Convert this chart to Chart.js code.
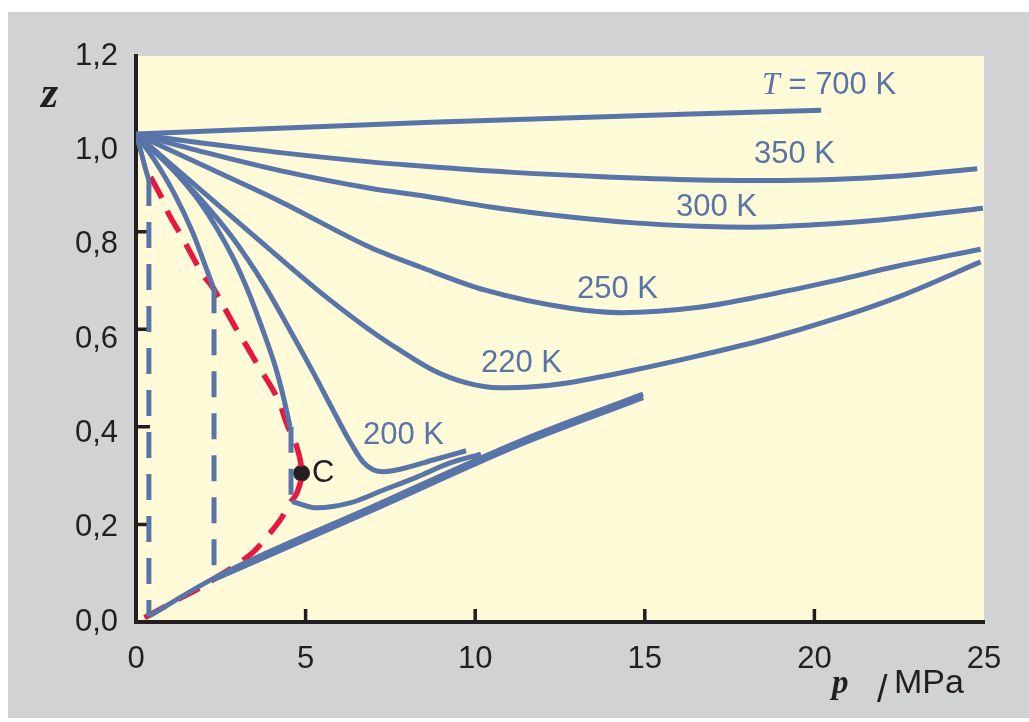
<!DOCTYPE html>
<html>
<head>
<meta charset="utf-8">
<title>Realgasfaktor z(p)</title>
<script src="https://cdn.jsdelivr.net/npm/chart.js@4/dist/chart.umd.min.js"></script>
<style>
  html, body { margin: 0; padding: 0; background: #ffffff; }
  #wrap { position: absolute; left: 0; top: 0; width: 1029px; height: 722px; }
</style>
</head>
<body>
<div id="wrap"><canvas id="chart" width="1029" height="722"></canvas></div>
<script>
// ---- values: pressure p in MPa, compression factor z ----
const xTickValues = [0, 5, 10, 15, 20, 25];
const xTickMarks = [5, 10, 15, 20];
const zLabelValues = [0, 0.2, 0.4, 0.6, 0.8, 1.0, 1.2];
const zTickMarks = [0.2, 0.4, 0.6, 0.8, 1.0];

const iso700 = [[0,1.0],[8.7,1.024],[20.2,1.049]];
const iso350 = [[0,1.0],[2,0.981],[4.25,0.962],[6.9,0.943],[8.5,0.934],[11,0.922],[13.6,0.913],[16.6,0.906],[18.6,0.905],[20.5,0.907],[22.5,0.914],[24.8,0.929]];
const iso300 = [[0,1.0],[2,0.963],[4.25,0.925],[6.9,0.889],[8.4,0.874],[10.5,0.85],[12.8,0.83],[14.7,0.818],[16.6,0.811],[18.1,0.809],[20.5,0.816],[22.5,0.828],[24.97,0.848]];
const iso250 = [[0,1.0],[2,0.935],[4.25,0.862],[6.9,0.768],[8.4,0.727],[10.3,0.68],[12.8,0.643],[14.3,0.634],[16.6,0.645],[18.6,0.67],[20.5,0.698],[22.5,0.73],[24.9,0.764]];
const iso220 = [[0,1.0],[2,0.88],[4,0.76],[5.5,0.672],[6.9,0.598],[7.78,0.557],[8.76,0.516],[9.75,0.49],[10.7,0.48],[11.7,0.482],[12.7,0.49],[14.65,0.516],[16.6,0.546],[18.6,0.58],[20.5,0.619],[22.5,0.667],[24.9,0.738]];
const iso200 = [[0,1.0],[0.943,0.937],[1.887,0.868],[2.83,0.789],[3.77,0.692],[4.54,0.598],[5.22,0.512],[5.81,0.434],[6.28,0.373],[6.69,0.328],[6.99,0.312],[7.3,0.308],[7.78,0.313],[8.76,0.332],[9.73,0.351]];

// subcritical isotherms: vapour branch, tie line, liquid branch
const gasA = [[0,1.0],[0.15,0.963],[0.3,0.924],[0.38,0.906]];
const tieA = [[0.38,0.906],[0.38,0.012]];
const liqA = [[0.38,0.012],[2.36,0.092],[6.9,0.234],[11.4,0.373],[14.95,0.467]];
const gasB = [[0,1.0],[0.56,0.945],[1.12,0.879],[1.68,0.797],[2.0,0.738],[2.28,0.686]];
const tieB = [[2.3,0.686],[2.3,0.09]];
const liqB = [[2.3,0.087],[6.9,0.227],[11.4,0.366],[14.95,0.46]];
const gasC = [[0,1.0],[0.943,0.938],[1.887,0.86],[2.83,0.751],[3.3,0.679],[3.74,0.598],[4.1,0.525],[4.35,0.46],[4.48,0.42],[4.54,0.4]];
const tieC = [[4.57,0.4],[4.57,0.25]];
const liqC = [[4.6,0.247],[5.34,0.234],[6.31,0.244],[7.28,0.27],[8.28,0.297],[9.26,0.326],[10.17,0.344]];

// two-phase boundary (dew and bubble curve) and critical point
const boundary = [[0.43,0.912],[0.79,0.865],[0.98,0.834],[1.35,0.79],[1.59,0.759],[1.98,0.711],[2.28,0.684],[2.67,0.636],[2.92,0.605],[3.3,0.561],[3.56,0.53],[4.15,0.461],[4.48,0.4],[4.74,0.359],[4.88,0.305],[4.74,0.264],[4.54,0.244],[4.25,0.209],[3.85,0.174],[3.45,0.143],[2.86,0.113],[2.38,0.092],[1.89,0.07],[1.2,0.045],[0.5,0.018],[0,0]];
const critical = [[4.88,0.305]];

// ---- styling ----
const BLUE = '#5874a8';
const RED = '#e8173f';
const INK = '#231f20';
const SANS = '"Liberation Sans", Arial, Helvetica, sans-serif';
const SERIF = '"Liberation Serif", "Times New Roman", serif';

const toPts = arr => arr.map(([x, y]) => ({ x, y }));

function solid(label, arr) {
  return { label, data: toPts(arr), borderColor: BLUE, borderWidth: 5,
           cubicInterpolationMode: 'monotone', pointRadius: 0, showLine: true, fill: false };
}
function tie(label, arr) {
  return { label, data: toPts(arr), borderColor: BLUE, borderWidth: 5,
           borderDash: [26, 16], pointRadius: 0, showLine: true, fill: false, tension: 0 };
}

const datasets = [
  solid('700 K', iso700),
  solid('350 K', iso350),
  solid('300 K', iso300),
  solid('250 K', iso250),
  solid('220 K', iso220),
  solid('200 K', iso200),
  solid('Isotherme A Gas', gasA), tie('Isotherme A Koexistenz', tieA), solid('Isotherme A Flüssigkeit', liqA),
  solid('Isotherme B Gas', gasB), tie('Isotherme B Koexistenz', tieB), solid('Isotherme B Flüssigkeit', liqB),
  solid('Isotherme C Gas', gasC), tie('Isotherme C Koexistenz', tieC), solid('Isotherme C Flüssigkeit', liqC),
  { label: 'Zweiphasengrenze', data: toPts(boundary), borderColor: RED, borderWidth: 5.5,
    borderDash: [24, 14], tension: 0.4, pointRadius: 0, showLine: true, fill: false },
  { label: 'kritischer Punkt', data: toPts(critical), showLine: false,
    pointRadius: 8, pointBackgroundColor: INK, pointBorderColor: INK, pointBorderWidth: 1 }
];

// frame, plot background and inward tick marks
const framePlugin = {
  id: 'frame',
  beforeDraw(chart) {
    const { ctx, chartArea: a } = chart;
    ctx.save();
    ctx.fillStyle = '#d1d2d4';
    ctx.fillRect(8, 12, 1021, 706);
    ctx.fillStyle = '#fffbd8';
    ctx.fillRect(a.left, a.top, a.right - a.left, a.bottom - a.top);
    ctx.restore();
  },
  beforeDatasetsDraw(chart) {
    const { ctx, chartArea: a, scales } = chart;
    ctx.save();
    ctx.strokeStyle = INK;
    ctx.lineWidth = 3.5;
    ctx.beginPath();
    xTickMarks.forEach(v => {
      const x = scales.x.getPixelForValue(v);
      ctx.moveTo(x, a.bottom); ctx.lineTo(x, a.bottom - 13);
    });
    zTickMarks.forEach(v => {
      const y = scales.y.getPixelForValue(v);
      ctx.moveTo(a.left, y); ctx.lineTo(a.left + 14, y);
    });
    ctx.stroke();
    ctx.restore();
  }
};

// curve labels and axis titles
const curveLabels = [
  { text: '350 K', x: 754, y: 163 },
  { text: '300 K', x: 676, y: 216 },
  { text: '250 K', x: 577, y: 298 },
  { text: '220 K', x: 481, y: 372 },
  { text: '200 K', x: 363, y: 444 }
];
const labelPlugin = {
  id: 'labels',
  afterDraw(chart) {
    const ctx = chart.ctx;
    ctx.save();
    ctx.textBaseline = 'alphabetic';
    ctx.textAlign = 'left';
    ctx.fillStyle = BLUE;
    ctx.font = '31px ' + SANS;
    curveLabels.forEach(l => ctx.fillText(l.text, l.x, l.y));
    // T = 700 K
    ctx.font = 'italic 32px ' + SERIF;
    ctx.fillText('T', 762, 94);
    const wT = ctx.measureText('T').width;
    ctx.font = '31px ' + SANS;
    ctx.fillText(' = 700 K', 762 + wT, 94);
    // critical point
    ctx.fillStyle = INK;
    ctx.fillText('C', 312, 482);
    // axis titles
    ctx.font = 'italic bold 44px ' + SERIF;
    ctx.fillText('z', 41, 107);
    ctx.font = 'italic bold 33px ' + SERIF;
    ctx.fillText('p', 832, 693);
    ctx.font = '38px ' + SANS;
    ctx.fillText('/', 877, 702);
    ctx.font = '34px ' + SANS;
    ctx.fillText('MPa', 894, 693);
    ctx.restore();
  }
};

const fmt = v => Number(v).toFixed(1).replace('.', ',');

new Chart(document.getElementById('chart'), {
  type: 'scatter',
  data: { datasets },
  options: {
    responsive: false,
    animation: false,
    events: [],
    layout: { padding: { top: 56, right: 45, left: 0, bottom: 0 } },
    plugins: { legend: { display: false }, tooltip: { enabled: false } },
    scales: {
      x: {
        type: 'linear', position: 'bottom', min: 0, max: 25,
        afterBuildTicks: s => { s.ticks = xTickValues.map(v => ({ value: v })); },
        afterFit: s => { s.height = 100; },
        grid: { display: false, drawTicks: false },
        border: { display: true, color: INK, width: 4 },
        ticks: { color: INK, font: { size: 31, family: SANS }, padding: 19,
                 maxRotation: 0, autoSkip: false, callback: v => String(v) }
      },
      y: {
        type: 'linear', display: false, min: 0, max: 1.16
      },
      yl: {
        type: 'linear', position: 'left', min: 0, max: 1.2,
        afterBuildTicks: s => { s.ticks = zLabelValues.map(v => ({ value: v })); },
        afterFit: s => { s.width = 136; },
        grid: { display: false, drawTicks: false },
        border: { display: true, color: INK, width: 4 },
        ticks: { color: INK, font: { size: 31, family: SANS }, padding: 18,
                 autoSkip: false, callback: v => fmt(v) }
      }
    }
  },
  plugins: [framePlugin, labelPlugin]
});
</script>
</body>
</html>
